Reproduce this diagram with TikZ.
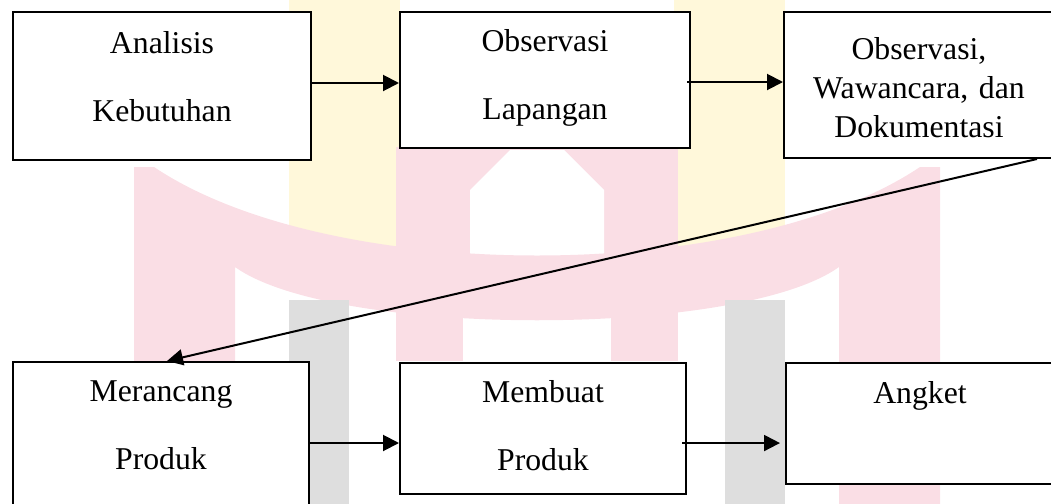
\documentclass[tikz,border=0pt]{standalone}
\usepackage{fontspec}
\setmainfont{Liberation Serif}
\usetikzlibrary{arrows.meta}

\definecolor{wmpink}{RGB}{250,222,229}
\definecolor{wmyellow}{RGB}{255,248,218}
\definecolor{wmgray}{RGB}{222,222,222}

\begin{document}
\begin{tikzpicture}[
	x=0.75pt,y=-0.75pt,
	bx/.style={draw,fill=white,line width=1.5pt,inner sep=0,align=center,anchor=north west,font=\fontsize{23.8pt}{28.5pt}\selectfont},
	arr/.style={line width=1.5pt,-{Triangle[length=12pt,width=12pt]}},
]
\useasboundingbox (0,0) rectangle (1051,504);
\clip (0,0) rectangle (1051,504);
\fill[wmyellow] (289,0) rectangle (400,290);
\fill[wmyellow] (674,0) rectangle (785,290);
\fill[wmpink] (396,147) rectangle (678,270);
\fill[white] (470,270) -- (470,190) -- (510,150) -- (564,150) -- (604,190) -- (604,270) -- cycle;
\fill[wmpink] (154,167) .. controls (330,285) and (744,285) .. (920,167) -- (940,167) -- (940,504) -- (839,504) -- (839,267)
	.. controls (740,338) and (334,338) .. (235,267) -- (235,504) -- (134,504) -- (134,167) -- cycle;
\fill[wmpink] (396,300) rectangle (463,361);
\fill[wmpink] (611,300) rectangle (678,361);
\fill[wmgray] (289,300) rectangle (349,504);
\fill[wmgray] (725,300) rectangle (785,504);

\node[bx,text width=223.5pt,text height=30.75pt,text depth=80.25pt] (anal) at (12,11) {Analisis\\[22.5pt]Kebutuhan};
\node[bx,text width=217.5pt,text height=29.25pt,text depth=72.75pt] (obs) at (399,11) {Observasi\\[22.5pt]Lapangan};
\node[bx,text width=202.5pt,text height=35.25pt,text depth=74.25pt] (obsw) at (783,11) {Observasi,\\[1pt]Wawancara, dan\\[1pt]Dokumentasi};
\node[bx,text width=222pt,text height=29.25pt,text depth=86.25pt] (ranc) at (12,361) {Merancang\\[22.5pt]Produk};
\node[bx,text width=214.5pt,text height=29.25pt,text depth=69pt] (buat) at (399,362) {Membuat\\[22.5pt]Produk};
\node[bx,text width=201pt,text height=30pt,text depth=60.75pt] (angk) at (785,362) {Angket};

\draw[arr] ([yshift=2.25pt]anal.east) -- ([yshift=2.25pt]anal.east -| obs.west);
\draw[arr] ([xshift=-3pt,yshift=-1.5pt]obs.east) -- ([yshift=-1.5pt]obs.east -| obsw.west);
\draw[arr] ([xshift=-13.5pt]obsw.south east) -- ([xshift=116.25pt]ranc.north west);
\draw[arr] ([yshift=-3pt]ranc.east) -- ([yshift=-3pt]ranc.east -| buat.west);
\draw[arr] ([xshift=-3.75pt,yshift=-10.9pt]buat.east) -- ([xshift=-3.75pt,yshift=-10.9pt]buat.east -| angk.west);
\end{tikzpicture}
\end{document}
